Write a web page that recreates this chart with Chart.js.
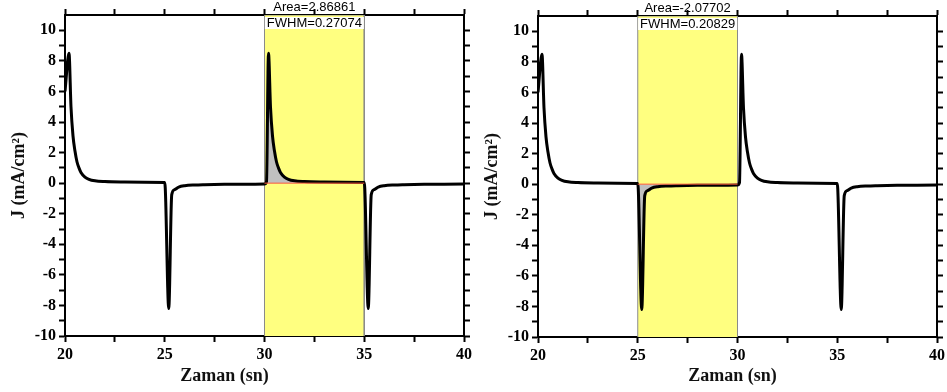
<!DOCTYPE html>
<html>
<head>
<meta charset="utf-8">
<script src="https://cdn.jsdelivr.net/npm/chart.js@4.4.0/dist/chart.umd.min.js"></script>
<style>
  html, body { margin: 0; padding: 0; background: #fff; }
  #wrap { position: relative; width: 947px; height: 392px; overflow: hidden; }
  .panel { position: absolute; top: 0; height: 392px; }
  #left { left: 0; width: 473px; }
  #right { left: 473px; width: 474px; }
</style>
</head>
<body>
<div id="wrap">
  <div class="panel" id="left"><canvas id="chartLeft" width="473" height="392"></canvas></div>
  <div class="panel" id="right"><canvas id="chartRight" width="474" height="392"></canvas></div>
</div>
<script>
// Current transient (same curve in both panels)
const timeSn = [
  20.0, 20.2, 20.3, 20.4, 20.5, 20.6, 20.7, 20.8, 21.0, 21.2, 21.5, 22.0, 23.0, 24.0, 25.0,
  25.2, 25.35, 25.5, 25.7, 26.0, 26.5, 27.0, 28.0, 29.0, 30.0,
  30.1, 30.2, 30.3, 30.4, 30.5, 30.6, 30.7, 30.8, 31.0, 31.2, 31.5, 32.0, 33.0, 34.0, 35.0,
  35.2, 35.35, 35.5, 35.7, 36.0, 36.5, 37.0, 38.0, 39.0, 40.0
];
const currentJ = [
  6.0, 8.5, 5.0, 3.1, 2.1, 1.4, 1.0, 0.7, 0.4, 0.25, 0.15, 0.1, 0.07, 0.06, 0.05,
  -8.2, -0.75, -0.42, -0.26, -0.17, -0.12, -0.1, -0.08, -0.07, -0.06,
  0.1, 8.5, 5.0, 3.1, 2.1, 1.4, 1.0, 0.7, 0.4, 0.25, 0.15, 0.1, 0.07, 0.06, 0.05,
  -8.2, -0.75, -0.42, -0.26, -0.17, -0.12, -0.1, -0.08, -0.07, -0.06
];

// integration windows and their results
const regionLeft = [30, 35];
const regionRight = [25, 30];
const baselineLeft = 0;
const baselineRight = 0;
const areaLabels = ['Area=2.86861', 'Area=-2.07702'];
const fwhmLabels = ['FWHM=0.27074', 'FWHM=0.20829'];

// axis ticks
const xTickLabels = [20, 25, 30, 35, 40];
const yTickLabels = [-10, -8, -6, -4, -2, 0, 2, 4, 6, 8, 10];

const serif = '"Liberation Serif", "Times New Roman", serif';
const tickFont = { family: serif, weight: 'bold', size: 16 };

// text over the window + x-axis title
const overlayText = {
    id: 'overlayText',
    afterDraw(chart, args, opts) {
        const { ctx, chartArea, scales } = chart;
        const cx = (scales.x.getPixelForValue(opts.region[0]) + scales.x.getPixelForValue(opts.region[1])) / 2;
        ctx.save();
        ctx.textAlign = 'center';
        ctx.textBaseline = 'middle';
        ctx.font = '13px "Liberation Sans", Arial, sans-serif';
        ctx.fillStyle = '#000';
        ctx.fillText(opts.area, cx, chartArea.top - 7.5);
        const w = ctx.measureText(opts.fwhm).width;
        ctx.fillStyle = '#fff';
        ctx.fillRect(cx - w / 2 - 2, chartArea.top + 2, w + 4, 12);
        ctx.fillStyle = '#000';
        ctx.fillText(opts.fwhm, cx, chartArea.top + 8);

        ctx.font = 'bold 18px ' + serif;
        ctx.fillStyle = '#111';
        ctx.fillText(opts.xTitle, (chartArea.left + chartArea.right) / 2 + opts.titleDx, chart.height - 16);
        ctx.restore();
    }
};

function axisGrid() {
    return {
        drawOnChartArea: false,
        drawTicks: true,
        tickLength: 6,
        tickColor: '#000',
        tickWidth: 2
    };
}

function makeChart(canvasId, region, baseline, area, fwhm, box) {
    const curvePts = timeSn.map((t, i) => ({ x: t, y: currentJ[i] }));
    const inRegion = curvePts.filter(p => p.x >= region[0] && p.x <= region[1]);

    return new Chart(document.getElementById(canvasId), {
        type: 'line',
        data: {
            datasets: [
                {
                    label: 'baseline',
                    data: [{ x: region[0], y: baseline }, { x: region[1], y: baseline }],
                    borderColor: '#ff5a3c',
                    borderWidth: 1,
                    pointRadius: 0,
                    fill: false,
                    order: 1
                },
                {
                    label: 'J',
                    data: curvePts,
                    borderColor: '#000',
                    borderWidth: 3,
                    pointRadius: 0,
                    cubicInterpolationMode: 'monotone',
                    fill: false,
                    order: 2
                },
                {
                    label: 'area',
                    data: inRegion,
                    borderColor: 'transparent',
                    borderWidth: 0,
                    backgroundColor: '#c0c0c0',
                    pointRadius: 0,
                    cubicInterpolationMode: 'monotone',
                    fill: { value: baseline },
                    order: 3
                },
                {
                    label: 'window',
                    data: [
                        { x: region[0], y: -10 }, { x: region[0], y: 11 },
                        { x: region[1], y: 11 }, { x: region[1], y: -10 }
                    ],
                    borderColor: '#8a8a8a',
                    borderWidth: 1,
                    backgroundColor: '#ffff80',
                    pointRadius: 0,
                    tension: 0,
                    fill: 'start',
                    order: 4
                }
            ]
        },
        options: {
            responsive: false,
            animation: false,
            layout: { padding: 0 },
            plugins: {
                legend: { display: false },
                tooltip: { enabled: false },
                overlayText: { region: region, area: area, fwhm: fwhm, xTitle: 'Zaman (sn)', titleDx: box.titleDx }
            },
            scales: {
                x: {
                    type: 'linear', position: 'bottom', min: 20, max: 40, z: 1,
                    ticks: {
                        stepSize: 2.5, autoSkip: false, maxRotation: 0, padding: 3,
                        color: '#000', font: tickFont,
                        callback: v => xTickLabels.includes(v) ? String(v) : ''
                    },
                    grid: axisGrid(),
                    border: { display: true, color: '#000', width: 2 },
                    afterFit: s => { s.height = box.bottom; s.paddingLeft = 0; s.paddingRight = 0; }
                },
                x2: {
                    type: 'linear', axis: 'x', position: 'top', min: 20, max: 40, z: 1,
                    ticks: { stepSize: 2.5, display: false },
                    grid: axisGrid(),
                    border: { display: true, color: '#000', width: 2 },
                    afterFit: s => { s.height = box.top; s.paddingLeft = 0; s.paddingRight = 0; }
                },
                y: {
                    type: 'linear', position: 'left', min: -10, max: 11, z: 1,
                    afterBuildTicks: s => { s.ticks = s.ticks.filter(t => t.value <= 10); },
                    ticks: {
                        stepSize: 1, autoSkip: false, padding: 3,
                        color: '#000', font: tickFont,
                        callback: v => yTickLabels.includes(v) ? String(v) : ''
                    },
                    grid: axisGrid(),
                    border: { display: true, color: '#000', width: 2 },
                    title: {
                        display: true,
                        text: 'J (mA/cm²)',
                        color: '#111',
                        font: { family: serif, weight: 'bold', size: 18 },
                        padding: { top: 9, bottom: 0 }
                    },
                    afterFit: s => { s.width = box.left; s.paddingTop = 0; s.paddingBottom = 0; }
                },
                y2: {
                    type: 'linear', axis: 'y', position: 'right', min: -10, max: 11, z: 1,
                    afterBuildTicks: s => { s.ticks = s.ticks.filter(t => t.value <= 10); },
                    ticks: { stepSize: 1, display: false },
                    grid: axisGrid(),
                    border: { display: true, color: '#000', width: 2 },
                    afterFit: s => { s.width = box.right; s.paddingTop = 0; s.paddingBottom = 0; }
                }
            }
        },
        plugins: [overlayText]
    });
}

makeChart('chartLeft', regionLeft, baselineLeft, areaLabels[0], fwhmLabels[0],
    { left: 65, right: 9, top: 15, bottom: 56, titleDx: -40 });
makeChart('chartRight', regionRight, baselineRight, areaLabels[1], fwhmLabels[1],
    { left: 65, right: 10, top: 16, bottom: 55, titleDx: -5 });
</script>
</body>
</html>
